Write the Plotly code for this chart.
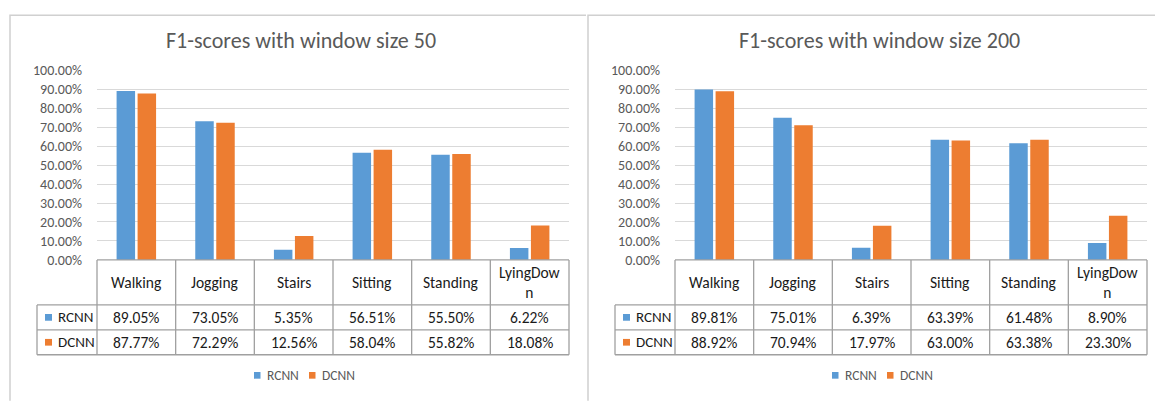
import plotly.graph_objects as go

W, H = 1155, 403

categories = ["Walking", "Jogging", "Stairs", "Sitting", "Standing", "LyingDown"]
header_labels = ["Walking", "Jogging", "Stairs", "Sitting", "Standing", "LyingDow<br>n"]
series_names = ["RCNN", "DCNN"]
rcnn_50 = [89.05, 73.05, 5.35, 56.51, 55.50, 6.22]
dcnn_50 = [87.77, 72.29, 12.56, 58.04, 55.82, 18.08]
rcnn_200 = [89.81, 75.01, 6.39, 63.39, 61.48, 8.90]
dcnn_200 = [88.92, 70.94, 17.97, 63.00, 63.38, 23.30]
titles = ["F1-scores with window size 50", "F1-scores with window size 200"]
y_ticks = [0, 10, 20, 30, 40, 50, 60, 70, 80, 90, 100]

BLUE = "#5B9BD5"
ORANGE = "#ED7D31"
colors = [BLUE, ORANGE]
FONT = "Carlito, Calibri, Lato, sans-serif"
GRID = "#D9D9D9"
TBL = "#A0A0A0"
TXT = "#1A1A1A"

def px(x):
    return x / W

def py(y):
    return 1 - y / H

# panel geometry (pixels)
panels = [
    dict(key_left=37, plot_left=97, plot_right=569, frame_left=10, frame_right=586,
         data=[rcnn_50, dcnn_50], xa="x", ya="y"),
    dict(key_left=615, plot_left=675, plot_right=1147, frame_left=588, frame_right=1160,
         data=[rcnn_200, dcnn_200], xa="x2", ya="y2"),
]
y_top, y_bot = 65, 263
hdr_bot, row1_bot, row2_bot = 310, 336, 362

fig = go.Figure()
shapes = []
annotations = []

for pi, p in enumerate(panels):
    for si, (name, vals) in enumerate(zip(series_names, p["data"])):
        fig.add_trace(go.Bar(
            x=categories, y=vals, name=name, marker=dict(color=colors[si], line=dict(width=0)),
            xaxis=p["xa"], yaxis=p["ya"], showlegend=False,
        ))
    # frame
    shapes.append(dict(type="path", xref="paper", yref="paper",
                       path=f"M {px(p['frame_left'])} {py(410)} L {px(p['frame_left'])} {py(7.5)} L {px(p['frame_right'])} {py(7.5)}",
                       line=dict(color="#D0D0D0", width=1.5)))
    # title
    cx = (p["key_left"] + p["plot_right"]) / 2 - 2
    annotations.append(dict(text=titles[pi], x=px(cx), y=py(34), xref="paper", yref="paper",
                            showarrow=False, xanchor="center", yanchor="middle",
                            font=dict(family=FONT, size=22, color="#595959")))
    # data table
    n = len(categories)
    cw = (p["plot_right"] - p["plot_left"]) / n
    L, R, KL = p["plot_left"], p["plot_right"], p["key_left"]
    def hline(x0, x1, y):
        shapes.append(dict(type="line", xref="paper", yref="paper", x0=px(x0), x1=px(x1),
                           y0=py(y), y1=py(y), line=dict(color=TBL, width=1.3)))
    def vline(x, y0, y1):
        shapes.append(dict(type="line", xref="paper", yref="paper", x0=px(x), x1=px(x),
                           y0=py(y0), y1=py(y1), line=dict(color=TBL, width=1.3)))
    hline(L, R, y_bot)
    hline(KL, R, hdr_bot)
    hline(KL, R, row1_bot)
    hline(KL, R, row2_bot)
    vline(KL, hdr_bot, row2_bot)
    for i in range(n + 1):
        vline(L + i * cw, y_bot, row2_bot)
    for i, lab in enumerate(header_labels):
        cxc = L + (i + 0.5) * cw
        annotations.append(dict(text=lab, x=px(cxc), y=py((y_bot + hdr_bot) / 2), xref="paper", yref="paper",
                                showarrow=False, xanchor="center", yanchor="middle",
                                font=dict(family=FONT, size=15.5, color=TXT)))
    rows = [(hdr_bot, row1_bot), (row1_bot, row2_bot)]
    for si, (name, vals) in enumerate(zip(series_names, p["data"])):
        r0, r1 = rows[si]
        ym = (r0 + r1) / 2
        shapes.append(dict(type="rect", xref="paper", yref="paper",
                           x0=px(KL + 8), x1=px(KL + 15), y0=py(ym - 3.5), y1=py(ym + 3.5),
                           fillcolor=colors[si], line=dict(width=0)))
        annotations.append(dict(text=name, x=px(KL + 19), y=py(ym), xref="paper", yref="paper",
                                showarrow=False, xanchor="left", yanchor="middle",
                                font=dict(family=FONT, size=15, color=TXT)))
        for i, v in enumerate(vals):
            cxc = L + (i + 0.5) * cw
            annotations.append(dict(text=f"{v:.2f}%", x=px(cxc), y=py(ym), xref="paper", yref="paper",
                                    showarrow=False, xanchor="center", yanchor="middle",
                                    font=dict(family=FONT, size=15.5, color=TXT)))
    # bottom legend
    lx = cx + 2 - 49
    for si, name in enumerate(series_names):
        x0 = lx + si * 55
        shapes.append(dict(type="rect", xref="paper", yref="paper",
                           x0=px(x0), x1=px(x0 + 6.5), y0=py(380), y1=py(387),
                           fillcolor=colors[si], line=dict(width=0)))
        annotations.append(dict(text=name, x=px(x0 + 10.5), y=py(383.5), xref="paper", yref="paper",
                                showarrow=False, xanchor="left", yanchor="middle",
                                font=dict(family=FONT, size=13.5, color="#595959")))

axis_common_y = dict(range=[0, 100], tickvals=y_ticks, ticktext=[f"{t:.2f}%" for t in y_ticks],
                     showgrid=True, gridcolor=GRID, gridwidth=1.2, zeroline=False, showline=False,
                     tickfont=dict(family=FONT, size=14, color="#595959"), ticks="", ticklabelstandoff=14)
axis_common_x = dict(showticklabels=False, showgrid=False, zeroline=False, showline=False, ticks="",
                     type="category", range=[-0.5, 5.5])

fig.update_layout(
    width=W, height=H, margin=dict(l=0, r=0, t=0, b=0),
    paper_bgcolor="white", plot_bgcolor="white",
    barmode="group", bargap=0.466, bargroupgap=0.12,
    xaxis=dict(domain=[px(panels[0]["plot_left"]), px(panels[0]["plot_right"])], anchor="y", **axis_common_x),
    yaxis=dict(domain=[py(y_bot), py(y_top)], anchor="x", **axis_common_y),
    xaxis2=dict(domain=[px(panels[1]["plot_left"]), px(panels[1]["plot_right"])], anchor="y2", **axis_common_x),
    yaxis2=dict(domain=[py(y_bot), py(y_top)], anchor="x2", **axis_common_y),
    shapes=shapes, annotations=annotations, showlegend=False,
)

fig.write_html("out.html")
